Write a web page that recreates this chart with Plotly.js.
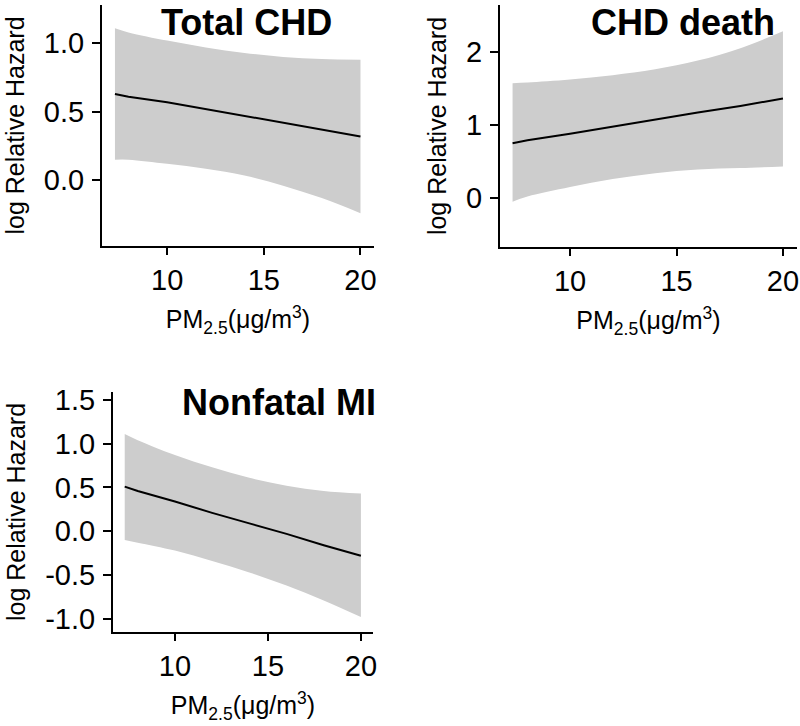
<!DOCTYPE html>
<html>
<head>
<meta charset="utf-8">
<script src="https://cdn.plot.ly/plotly-3.0.1.min.js"></script>
<style>html,body{margin:0;padding:0;background:#fff}#chart{width:800px;height:726px}</style>
</head>
<body>
<div id="chart"></div>
<script>
// PM2.5 grid (µg/m3) at which values were read
const pm = [7.3, 8, 10, 12, 14, 16, 18, 20];

// Total CHD
const totalFit   = [0.63, 0.61, 0.57, 0.52, 0.47, 0.42, 0.37, 0.32];
const totalUpper = [1.11, 1.08, 1.02, 0.97, 0.93, 0.90, 0.885, 0.88];
const totalLower = [0.15, 0.15, 0.12, 0.085, 0.035, -0.04, -0.13, -0.24];

// CHD death
const deathFit   = [0.75, 0.79, 0.88, 0.98, 1.07, 1.17, 1.26, 1.36];
const deathUpper = [1.57, 1.58, 1.62, 1.68, 1.76, 1.88, 2.05, 2.28];
const deathLower = [-0.05, 0.02, 0.15, 0.26, 0.34, 0.39, 0.41, 0.43];

// Nonfatal MI
const miFit   = [0.51, 0.46, 0.34, 0.21, 0.09, -0.03, -0.16, -0.28];
const miUpper = [1.11, 1.04, 0.87, 0.73, 0.61, 0.52, 0.46, 0.43];
const miLower = [-0.10, -0.13, -0.22, -0.34, -0.47, -0.62, -0.79, -0.98];

const panelTitles = ['Total CHD', 'CHD death', 'Nonfatal MI'];
const xTitle = 'PM<sub>2.5</sub>(μg/m<sup>3</sup>)';
const yTitle = 'log Relative Hazard';
const xTicks = [10, 15, 20];

const FONT = 'Liberation Sans, Arial, sans-serif';
const BAND = '#cdcdcd';

function panel(xa, ya, up, lo, fit) {
  return [
    {x: pm, y: up, xaxis: xa, yaxis: ya, mode: 'lines', line: {width: 0, color: BAND, shape: 'spline', smoothing: 1}, hoverinfo: 'skip', showlegend: false},
    {x: pm, y: lo, xaxis: xa, yaxis: ya, mode: 'lines', line: {width: 0, color: BAND, shape: 'spline', smoothing: 1}, fill: 'tonexty', fillcolor: BAND, hoverinfo: 'skip', showlegend: false},
    {x: pm, y: fit, xaxis: xa, yaxis: ya, mode: 'lines', line: {width: 2, color: '#000'}, showlegend: false}
  ];
}

const data = [].concat(
  panel('x', 'y', totalUpper, totalLower, totalFit),
  panel('x2', 'y2', deathUpper, deathLower, deathFit),
  panel('x3', 'y3', miUpper, miLower, miFit)
);

function xax(domain, range, anchor) {
  return {
    domain: domain, range: range, anchor: anchor,
    tickmode: 'array', tickvals: xTicks, ticks: 'outside', ticklen: 7, tickwidth: 2, tickcolor: '#000',
    showline: true, linewidth: 2, linecolor: '#000', showgrid: false, zeroline: false,
    tickfont: {family: FONT, size: 29, color: '#000'},
    ticklabelstandoff: 0,
    title: {text: xTitle, font: {family: FONT, size: 25, color: '#000'}, standoff: 16},
    automargin: false
  };
}
function yax(domain, range, anchor, tickvals, ticktext) {
  return {
    domain: domain, range: range, anchor: anchor,
    tickmode: 'array', tickvals: tickvals, ticktext: ticktext, ticks: 'outside', ticklen: 8, tickwidth: 2, tickcolor: '#000',
    showline: true, linewidth: 2, linecolor: '#000', showgrid: false, zeroline: false,
    tickfont: {family: FONT, size: 29, color: '#000'},
    ticklabelstandoff: 2,
    title: {text: yTitle, font: {family: FONT, size: 25, color: '#000'}, standoff: 12},
    automargin: false
  };
}

const W = 800, H = 726;
const px = v => v / W, py = v => 1 - v / H;

const layout = {
  width: W, height: H,
  margin: {l: 0, r: 0, t: 0, b: 0},
  paper_bgcolor: '#fff', plot_bgcolor: '#fff',
  showlegend: false,
  font: {family: FONT, color: '#000'},
  xaxis:  xax([px(102), px(374)], [6.63, 20.7], 'y'),
  yaxis:  yax([py(246), py(5)], [-0.48, 1.28], 'x', [0, 0.5, 1.0], ['0.0', '0.5', '1.0']),
  xaxis2: xax([px(500), px(797)], [6.71, 20.66], 'y2'),
  yaxis2: yax([py(247), py(5)], [-0.67, 2.64], 'x2', [0, 1, 2], ['0', '1', '2']),
  xaxis3: xax([px(113), px(373)], [6.67, 20.65], 'y3'),
  yaxis3: yax([py(632), py(392)], [-1.15, 1.59], 'x3', [-1, -0.5, 0, 0.5, 1.0, 1.5], ['-1.0', '-0.5', '0.0', '0.5', '1.0', '1.5']),
  annotations: [
    {text: '<b>' + panelTitles[0] + '</b>', xref: 'paper', yref: 'paper', x: px(246), y: 1, xanchor: 'center', yanchor: 'top', showarrow: false, font: {family: FONT, size: 36, color: '#000'}},
    {text: '<b>' + panelTitles[1] + '</b>', xref: 'paper', yref: 'paper', x: px(683), y: 1, xanchor: 'center', yanchor: 'top', showarrow: false, font: {family: FONT, size: 36, color: '#000'}},
    {text: '<b>' + panelTitles[2] + '</b>', xref: 'paper', yref: 'paper', x: px(279), y: py(380), xanchor: 'center', yanchor: 'top', showarrow: false, font: {family: FONT, size: 36, color: '#000'}}
  ]
};

Plotly.newPlot('chart', data, layout, {displayModeBar: false, staticPlot: true});
</script>
</body>
</html>
